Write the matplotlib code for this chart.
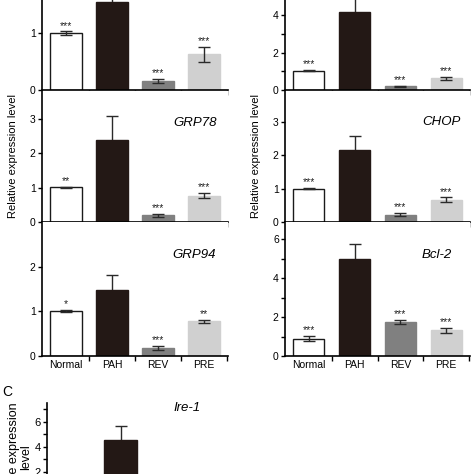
import matplotlib
matplotlib.use('Agg')
import matplotlib.pyplot as plt
from matplotlib.ticker import MultipleLocator, FixedLocator

plt.rcParams['font.family'] = ['Liberation Sans', 'DejaVu Sans']

groups = ['Normal', 'PAH', 'REV', 'PRE']
bar_colors = ['white', '#231815', '#808080', '#d0d0d0']

# panel values (mean, error, significance marks)
top_left_vals = [1.0, 1.55, 0.16, 0.63]
top_left_err = [0.03, 0.25, 0.04, 0.13]
top_left_sig = ['***', '', '***', '***']

top_right_vals = [1.03, 4.2, 0.2, 0.63]
top_right_err = [0.03, 0.9, 0.04, 0.08]
top_right_sig = ['***', '', '***', '***']

grp78_vals = [1.01, 2.4, 0.2, 0.77]
grp78_err = [0.02, 0.68, 0.04, 0.07]
grp78_sig = ['**', '', '***', '***']

chop_vals = [1.0, 2.17, 0.22, 0.67]
chop_err = [0.02, 0.4, 0.05, 0.07]
chop_sig = ['***', '', '***', '***']

grp94_vals = [1.01, 1.47, 0.18, 0.78]
grp94_err = [0.03, 0.35, 0.05, 0.03]
grp94_sig = ['*', '', '***', '**']

bcl2_vals = [0.9, 5.0, 1.75, 1.33]
bcl2_err = [0.12, 0.75, 0.1, 0.13]
bcl2_sig = ['***', '', '***', '***']

ire1_vals = [4.55]
ire1_err = [1.1]

W = H = 474
fig = plt.figure(figsize=(4.74, 4.74), dpi=100)


def add_ax(left, right, top, bottom):
    # pixel box -> figure coords
    return fig.add_axes([left / W, 1 - bottom / H, (right - left) / W, (bottom - top) / H])


def style(ax, ymax, major, minor=None, xlabels=False):
    ax.set_xlim(-0.52, 3.52)
    ax.set_ylim(0, ymax)
    for s in ['top', 'right']:
        ax.spines[s].set_visible(False)
    for s in ['left', 'bottom']:
        ax.spines[s].set_linewidth(1.2)
    ax.yaxis.set_major_locator(MultipleLocator(major))
    if minor:
        ax.yaxis.set_minor_locator(MultipleLocator(minor))
    ax.tick_params(axis='y', which='both', direction='out', length=3, width=1.0,
                   labelsize=7.5, pad=1.5)
    ax.xaxis.set_major_locator(FixedLocator([0.5, 1.5, 2.5, 3.5]))
    ax.tick_params(axis='x', which='major', direction='out', length=3.5, width=1.0,
                   labelbottom=False)
    if xlabels:
        ax.xaxis.set_minor_locator(FixedLocator(range(4)))
        ax.set_xticklabels(groups, minor=True)
        ax.tick_params(axis='x', which='minor', length=0, labelsize=7.5, pad=3)
    else:
        ax.xaxis.set_minor_locator(FixedLocator([]))


def draw(ax, vals, errs, sigs, pos=None):
    pos = list(range(len(vals))) if pos is None else pos
    colors = bar_colors if len(vals) == 4 else [bar_colors[1]]
    ax.bar(pos, vals, width=0.68, color=colors, zorder=2,
           edgecolor=['#1a1a1a' if c == 'white' else c for c in colors], linewidth=1.0)
    for x, v, e, s, c in zip(pos, vals, errs, sigs, colors):
        # lower whisker hidden inside the dark bar
        z = 1 if c == bar_colors[1] else 3
        ax.errorbar([x], [v], yerr=[e], fmt='none', ecolor='#2a2a2a', elinewidth=1.0,
                    capsize=4.5, capthick=1.0, zorder=z)
        if s:
            ax.annotate(s, (x, v + e), xytext=(0, 0.5), textcoords='offset points',
                        ha='center', va='bottom', fontsize=7.5, color='#222222')


ax1 = add_ax(42, 228, -24, 90)
style(ax1, 2, 1)
ax1.set_yticks([0, 1])
draw(ax1, top_left_vals, top_left_err, top_left_sig)

ax2 = add_ax(285, 470, -22, 90)
style(ax2, 6, 2, 1)
ax2.set_yticks([0, 2, 4])
draw(ax2, top_right_vals, top_right_err, top_right_sig)

ax3 = add_ax(42, 228, 91, 222)
style(ax3, 3.82, 1)
draw(ax3, grp78_vals, grp78_err, grp78_sig)

ax4 = add_ax(285, 470, 91, 222)
style(ax4, 3.93, 1)
draw(ax4, chop_vals, chop_err, chop_sig)

ax5 = add_ax(42, 228, 222, 356)
style(ax5, 3.0, 1, xlabels=True)
ax5.set_yticks([0, 1, 2])
draw(ax5, grp94_vals, grp94_err, grp94_sig)

ax6 = add_ax(285, 470, 222, 356)
style(ax6, 6.9, 2, 1, xlabels=True)
draw(ax6, bcl2_vals, bcl2_err, bcl2_sig)

ax7 = add_ax(47, 243, 403, 497)
style(ax7, 7.5, 2, 1)
ax7.tick_params(axis='y', labelsize=8)
draw(ax7, ire1_vals, ire1_err, [''], pos=[1])

# gene names
def px_text(x, y, s, **kw):
    fig.text(x / W, 1 - y / H, s, **kw)

px_text(195, 123, 'GRP78', ha='center', va='center', fontsize=9.5, style='italic')
px_text(441, 122, 'CHOP', ha='center', va='center', fontsize=9.5, style='italic')
px_text(194, 255, 'GRP94', ha='center', va='center', fontsize=9.5, style='italic')
px_text(437, 255, 'Bcl-2', ha='center', va='center', fontsize=9.5, style='italic')
px_text(187, 408, 'Ire-1', ha='center', va='center', fontsize=9.5, style='italic')

px_text(13, 156, 'Relative expression level', rotation=90, ha='center', va='center', fontsize=8)
px_text(256, 156, 'Relative expression level', rotation=90, ha='center', va='center', fontsize=8)
px_text(20, 457, 'Relative expression\nlevel', rotation=90, ha='center', va='center',
        fontsize=9, linespacing=1.1)
px_text(7, 392, 'C', ha='center', va='center', fontsize=10)

fig.savefig('out.png', dpi=100, facecolor='white')
